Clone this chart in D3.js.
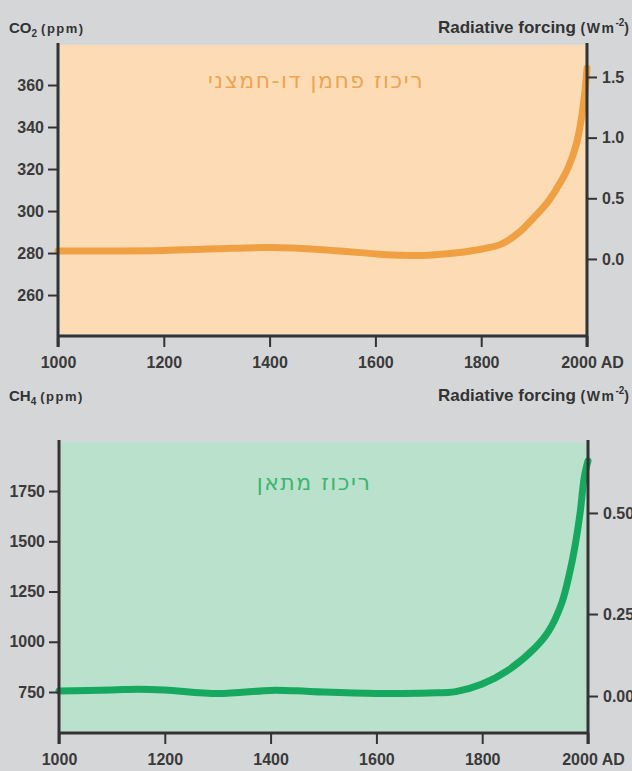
<!DOCTYPE html>
<html>
<head>
<meta charset="utf-8">
<script src="https://cdn.jsdelivr.net/npm/d3@7"></script>
<style>
    body { margin: 0; background: #d5d6d8; }
    svg { display: block; font-family: "Liberation Sans", Arial, sans-serif; }
    .tick text { font-size: 16px; font-weight: bold; fill: #3a3a3a; }
    .tick line { stroke: #333; stroke-width: 2; }
</style>
</head>
<body>
<div class="chart"></div>
<script>
// CO2 (ppm)
const co2_years = [1000, 1100, 1200, 1300, 1400, 1500, 1600, 1650, 1700, 1750, 1780, 1810, 1840, 1870, 1900, 1925, 1946, 1965, 1980, 1990, 1996, 2000]
const co2_values = [281, 281, 281.2, 282, 282.6, 281.6, 279.6, 278.9, 279, 280, 281, 282.3, 284.5, 289.5, 297, 304, 312, 321, 332, 345, 357, 368]

// CH4
const ch4_years = [1000, 1100, 1150, 1200, 1300, 1400, 1450, 1500, 1600, 1700, 1750, 1800, 1850, 1900, 1925, 1950, 1965, 1975, 1985, 1993, 2000]
const ch4_values = [755, 760, 764, 760, 742, 758, 756, 750, 743, 745, 752, 790, 860, 970, 1050, 1190, 1340, 1470, 1640, 1820, 1900]

const year_ticks = [1000, 1200, 1400, 1600, 1800, 2000]
const co2_ticks = [260, 280, 300, 320, 340, 360]
const co2_forcing_ticks = [0.0, 0.5, 1.0, 1.5]
const ch4_ticks = [750, 1000, 1250, 1500, 1750]
const ch4_forcing_ticks = [0.0, 0.25, 0.5]
const ch4_forcing_ppb = [730, 1138, 1641]   // where each forcing tick sits on the ppb scale

const ctx = {
    W: 632,
    H: 771,
}

const svg = d3.select(".chart").append("svg")
    .attr("width", ctx.W)
    .attr("height", ctx.H)

function draw_panel(p) {
    const g = svg.append("g")

    const x = d3.scaleLinear().domain([1000, 2000]).range([p.x0, p.x1])
    const y = d3.scaleLinear().domain(p.y_domain).range([p.bottom, p.top])

    // panel background
    g.append("rect")
        .attr("x", p.x0 + 2)
        .attr("y", p.top + 2)
        .attr("width", p.x1 - p.x0 - 4)
        .attr("height", p.bottom - p.top - 4)
        .attr("fill", p.bg)

    // label inside
    g.append("text")
        .attr("x", p.label_x)
        .attr("y", p.label_y)
        .attr("text-anchor", "middle")
        .attr("direction", "rtl")
        .style("font-family", "'DejaVu Sans', sans-serif")
        .style("font-size", "22px")
        .style("letter-spacing", "1.5px")
        .attr("fill", p.label_color)
        .text(p.label)

    // curve
    const pts = p.years.map((yr, i) => [yr, p.values[i]])
    g.append("path")
        .datum(pts)
        .attr("fill", "none")
        .attr("stroke", p.line_color)
        .attr("stroke-width", 7)
        .attr("stroke-linecap", "round")
        .attr("d", d3.line().x(d => x(d[0])).y(d => y(d[1])).curve(d3.curveCatmullRom.alpha(0.5)))

    // axes
    const ax_b = g.append("g")
        .attr("transform", `translate(0,${p.bottom})`)
        .call(d3.axisBottom(x).tickValues(year_ticks).tickSize(11).tickPadding(10)
            .tickFormat(d => d == 2000 ? "2000 AD" : d))
    ax_b.select(".domain").remove()
    ax_b.selectAll(".tick text").attr("dx", d => d == 2000 ? "5px" : 0)

    const ax_l = g.append("g")
        .attr("transform", `translate(${p.x0},0)`)
        .call(d3.axisLeft(y).tickValues(p.left_ticks).tickSize(10).tickPadding(4).tickFormat(d3.format("d")))
    ax_l.select(".domain").remove()

    const ax_r = g.append("g")
        .attr("transform", `translate(${p.x1},0)`)
        .call(d3.axisRight(p.right_scale(y)).tickValues(p.right_ticks).tickSize(10).tickPadding(5)
            .tickFormat(p.right_format))
    ax_r.select(".domain").remove()

    // axis lines
    const line_style = sel => sel.attr("stroke", "#333").attr("stroke-width", 3).attr("fill", "none")
    g.append("line").attr("x1", p.x0).attr("x2", p.x1).attr("y1", p.bottom).attr("y2", p.bottom).call(line_style)
    g.append("line").attr("x1", p.x0).attr("x2", p.x0).attr("y1", p.top).attr("y2", p.bottom + 11).call(line_style)
    g.append("line").attr("x1", p.x1).attr("x2", p.x1).attr("y1", p.top).attr("y2", p.bottom + 11).call(line_style)

    // titles
    const tl = g.append("text")
        .attr("x", 9)
        .attr("y", p.title_y)
        .attr("fill", "#333")
        .style("font-weight", "bold")
    tl.append("tspan").style("font-size", "15px").text(p.gas)
    tl.append("tspan").style("font-size", "10px").attr("dy", 4).text(p.sub)
    tl.append("tspan").style("font-size", "13px").style("letter-spacing", "1.5px").attr("dy", -4).attr("dx", 4).text("(ppm)")

    const tr = g.append("text")
        .attr("x", 629)
        .attr("y", p.title_y)
        .attr("text-anchor", "end")
        .attr("fill", "#333")
        .style("font-weight", "bold")
    tr.append("tspan").style("font-size", "17px").text("Radiative forcing ")
    tr.append("tspan").style("font-size", "14px").style("letter-spacing", "1.5px").text("(Wm")
    tr.append("tspan").style("font-size", "10px").attr("dy", -7).text("-2")
    tr.append("tspan").style("font-size", "14px").attr("dy", 7).text(")")
}

draw_panel({
    x0: 58, x1: 587, top: 43, bottom: 336,
    y_domain: [240.5, 380],
    years: co2_years, values: co2_values,
    left_ticks: co2_ticks,
    right_ticks: co2_forcing_ticks,
    right_scale: y => d3.scaleLinear().domain([-0.635, 1.78]).range([336, 43]),
    right_format: d3.format(".1f"),
    bg: "#fddcb5", line_color: "#efa043",
    label: "ריכוז פחמן דו-חמצני", label_color: "#f0a350", label_x: 316, label_y: 88,
    gas: "CO", sub: "2", title_y: 33,
})

draw_panel({
    x0: 59, x1: 588, top: 440, bottom: 733,
    y_domain: [546, 2004],
    years: ch4_years, values: ch4_values,
    left_ticks: ch4_ticks,
    right_ticks: ch4_forcing_ticks,
    right_scale: y => d3.scaleLinear().domain(ch4_forcing_ticks).range(ch4_forcing_ppb.map(y)),
    right_format: d3.format(".2f"),
    bg: "#b9e1cb", line_color: "#17a85f",
    label: "ריכוז מתאן", label_color: "#3cb56f", label_x: 314, label_y: 490,
    gas: "CH", sub: "4", title_y: 401,
})
</script>
</body>
</html>
